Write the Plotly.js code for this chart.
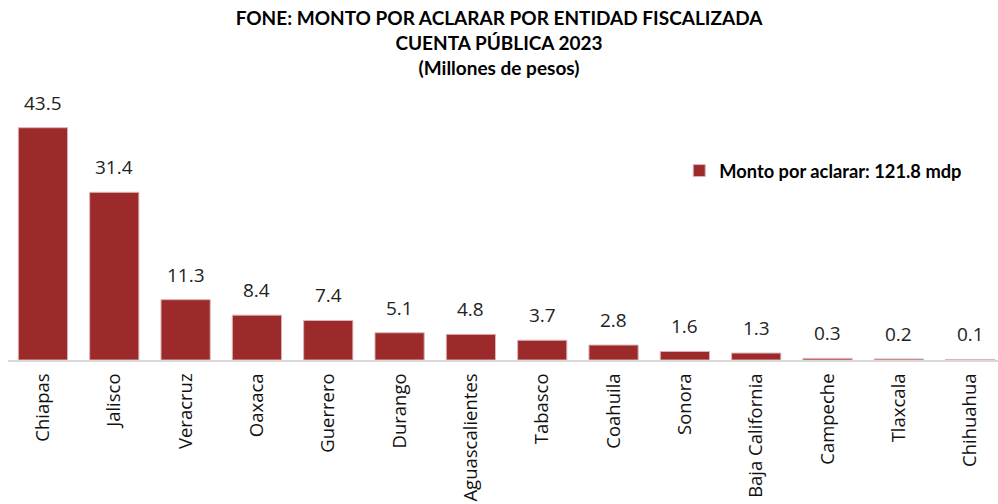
<!DOCTYPE html>
<html><head><meta charset="utf-8">
<script src="https://cdn.plot.ly/plotly-3.0.1.min.js"></script>
<style>html,body{margin:0;padding:0;background:#fff}#chart{width:998px;height:504px}</style>
</head><body><div id="chart"></div>
<script>
const entidades = ["Chiapas","Jalisco","Veracruz","Oaxaca","Guerrero","Durango","Aguascalientes","Tabasco","Coahuila","Sonora","Baja California","Campeche","Tlaxcala","Chihuahua"];
const montos = [43.5,31.4,11.3,8.4,7.4,5.1,4.8,3.7,2.8,1.6,1.3,0.3,0.2,0.1];
const serieNombre = "<b>Monto por aclarar: 121.8 mdp</b>";
const titulo = "<b>FONE: MONTO POR ACLARAR POR ENTIDAD FISCALIZADA</b><br><b>CUENTA PÚBLICA 2023</b><br><b>(Millones de pesos)</b>";

const bar = {
  type: "bar", x: entidades, y: montos, name: serieNombre,
  marker: {color: "#9C2A2B", line: {color: "#dcb4b4", width: 1}},
  width: 0.69, hoverinfo: "x+y", showlegend: true
};
const anns = entidades.map((e, i) => ({
  x: e, y: montos[i], xref: "x", yref: "y", text: montos[i].toFixed(1),
  showarrow: false, yanchor: "bottom", yshift: 10,
  font: {family: "Open Sans, sans-serif", size: 19, color: "#222"}
}));
const layout = {
  width: 998, height: 504,
  margin: {l: 8, r: 0, t: 93, b: 144},
  paper_bgcolor: "#fff", plot_bgcolor: "#fff",
  title: {text: titulo, x: 0.5, xanchor: "center", y: 0.95, yanchor: "top",
          font: {family: "Lato, sans-serif", size: 19, color: "#000"}},
  xaxis: {type: "category", range: [-0.49, 13.39], tickangle: -90,
          showline: true, linecolor: "#d9d9d9", linewidth: 2, ticks: "",
          showgrid: false, zeroline: false, ticklabelstandoff: 4,
          tickfont: {family: "Open Sans, sans-serif", size: 18.5, color: "#111"}},
  yaxis: {range: [0, 50], visible: false, showgrid: false, zeroline: false},
  showlegend: true,
  legend: {x: 0.678, y: 0.709, xanchor: "left", yanchor: "middle", bgcolor: "rgba(0,0,0,0)",
           font: {family: "Lato, sans-serif", size: 18.3, color: "#000"}},
  annotations: anns
};
Plotly.newPlot("chart", [bar], layout, {displayModeBar: false, staticPlot: true});
</script></body></html>
